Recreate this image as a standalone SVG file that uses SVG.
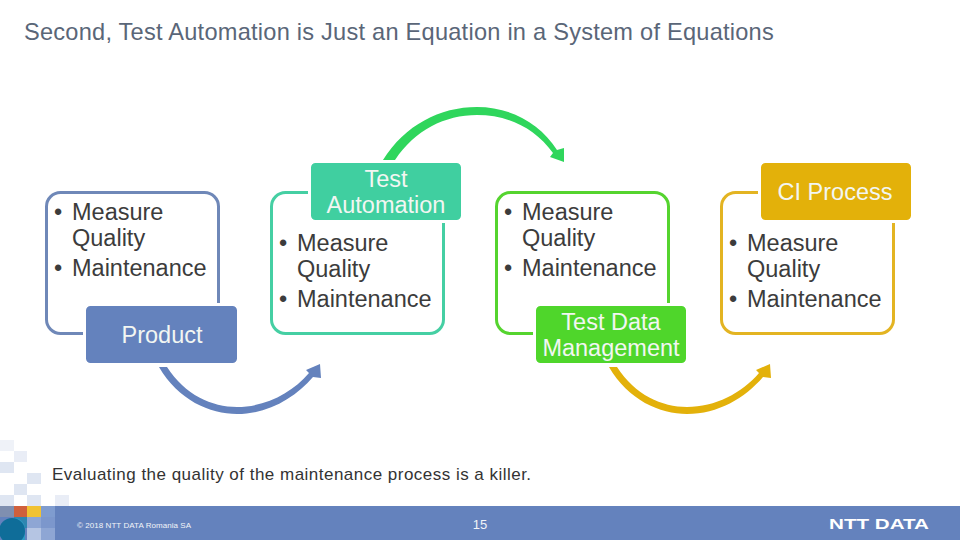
<svg xmlns="http://www.w3.org/2000/svg" width="960" height="540" viewBox="0 0 960 540">
<style>
text{font-family:"Liberation Sans",Arial,sans-serif;fill:#3c3c3c}
.t{font-size:23.5px}
.n{font-size:23.5px;fill:#f2f6f2;text-anchor:middle}
.box{fill:#fff;stroke-width:3}
.node{stroke:#fff;stroke-width:3}
.m{fill:#dfe6f2}
</style>
<defs>
<g id="bul">
<text class="t" x="0" y="28">•</text><text class="t" x="18" y="28">Measure</text>
<text class="t" x="18" y="54">Quality</text>
<text class="t" x="0" y="84">•</text><text class="t" x="18" y="84">Maintenance</text>
</g>
<path id="under" d="M159,367C178,400 210,414 237,414C268,414 295,398 313,377L321,378L320,364L306,370L309,373C292,393 265,407 237,407C212,407 185,395 167,367Z"/>
</defs>
<rect width="960" height="540" fill="#fff"/>
<text x="24" y="40" style="font-size:23.6px;letter-spacing:.235px;fill:#5a6678">Second, Test Automation is Just an Equation in a System of Equations</text>

<g id="connectors">
<use href="#under" fill="#6482bd"/>
<path d="M383,160C405,125 440,107 477,107C510,107 540,123 557,150L564,148L564,162L550,157L553,153C535,128 508,115 477,115C445,115 415,130 395,160Z" fill="#2fd65c"/>
<use href="#under" x="450" fill="#e3b10a"/>
</g>

<g id="node-product">
<rect class="box" x="46.500" y="192.500" width="172" height="141" rx="14" stroke="#6f88b8"/>
<use href="#bul" x="54" y="192"/>
<rect class="node" x="84.500" y="304.500" width="154" height="60" rx="6" fill="#6482bd"/>
<text class="n" x="162" y="343">Product</text>
</g>
<g id="node-test-automation">
<rect class="box" x="271.500" y="192.500" width="172" height="141" rx="14" stroke="#45cfa3"/>
<use href="#bul" x="279" y="223"/>
<rect class="node" x="309.500" y="161.500" width="153" height="60" rx="6" fill="#40cfa0"/>
<text class="n" x="386" y="187">Test</text>
<text class="n" x="386" y="213">Automation</text>
</g>
<g id="node-test-data">
<rect class="box" x="496.500" y="192.500" width="172" height="141" rx="14" stroke="#55d42f"/>
<use href="#bul" x="504" y="192"/>
<rect class="node" x="534.500" y="304.500" width="153" height="60" rx="6" fill="#4fd62b"/>
<text class="n" x="611" y="330">Test Data</text>
<text class="n" x="611" y="356">Management</text>
</g>
<g id="node-ci">
<rect class="box" x="721.500" y="192.500" width="172" height="141" rx="14" stroke="#e3b422"/>
<use href="#bul" x="729" y="223"/>
<rect class="node" x="759.500" y="161.500" width="153" height="60" rx="6" fill="#e3b10a"/>
<text class="n" x="835" y="200">CI Process</text>
</g>

<g id="decor">
<rect class="m" x="0" y="440" width="14" height="11" opacity=".5"/>
<rect class="m" x="14" y="451" width="13" height="11" opacity=".7"/>
<rect class="m" x="0" y="462" width="14" height="11"/>
<rect class="m" x="27" y="473" width="14" height="11"/>
<rect class="m" x="14" y="484" width="13" height="11"/>
<rect class="m" x="0" y="495" width="14" height="11"/>
<rect class="m" x="27" y="495" width="14" height="11"/>
<rect class="m" x="55" y="495" width="14" height="11" opacity=".7"/>
</g>
<text x="52" y="480" style="font-size:17px;letter-spacing:.48px;fill:#333">Evaluating the quality of the maintenance process is a killer.</text>
<g id="footer">
<rect x="0" y="506" width="960" height="34" fill="#6482bd"/>
<rect x="0" y="506" width="14" height="11" fill="#7f8fb0"/>
<rect x="14" y="506" width="13" height="11" fill="#d0603c"/>
<rect x="27" y="506" width="14" height="11" fill="#f1c232"/>
<rect x="41" y="506" width="14" height="11" fill="#7f9ccf"/>
<rect x="14" y="517" width="13" height="11" fill="#2f86b0"/>
<rect x="27" y="517" width="14" height="11" fill="#8ea6d4"/>
<rect x="41" y="517" width="14" height="11" fill="#7c97cc"/>
<rect x="27" y="528" width="14" height="12" fill="#b5c5e3"/>
<rect x="41" y="528" width="14" height="12" fill="#8ea6d4"/>
<path d="M14,518A11,11 0 0 1 25,529L25,540L14,540Z" fill="#2f9bc4"/>
<circle cx="12" cy="531" r="13" fill="#0f6d99"/>
<text x="77" y="528" style="font-size:8px;fill:#f2f4f8;letter-spacing:.06px">© 2018 NTT DATA Romania SA</text>
<text x="480" y="529" style="font-size:13px;fill:#f2f4f8;text-anchor:middle">15</text>
<text x="829" y="529" textLength="100" lengthAdjust="spacingAndGlyphs" style="font-size:15px;font-weight:bold;fill:#fff">NTT DATA</text>
</g>
</svg>
